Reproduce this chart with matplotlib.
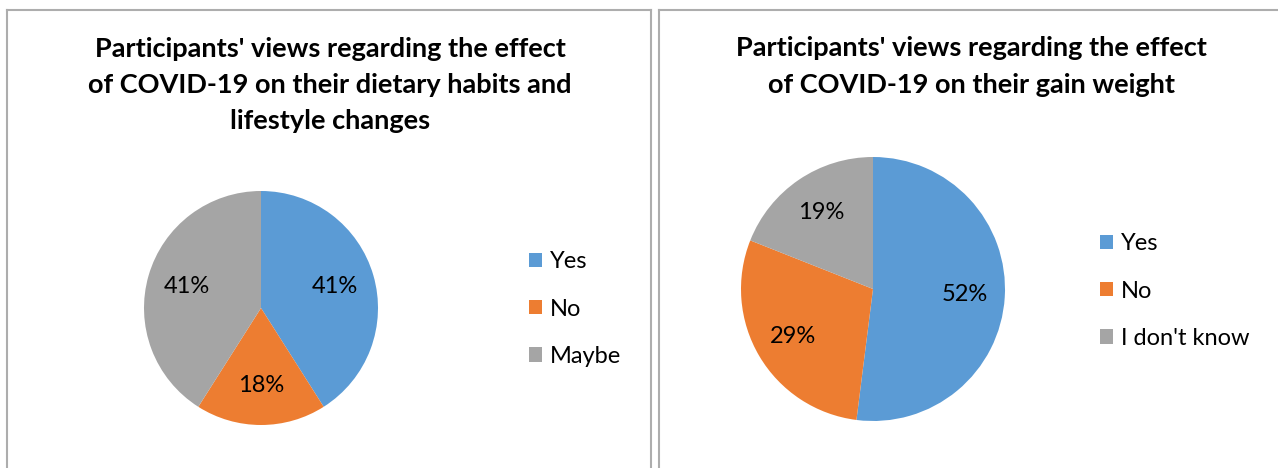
import matplotlib
matplotlib.use("Agg")
import matplotlib.pyplot as plt
from matplotlib.lines import Line2D

plt.rcParams['font.family'] = ['Lato', 'DejaVu Sans']

# Data
left_title = "Participants' views regarding the effect\nof COVID-19 on their dietary habits and\nlifestyle changes"
left_labels = ["Yes", "No", "Maybe"]
left_values = [41, 18, 41]

right_title = "Participants' views regarding the effect\nof COVID-19 on their gain weight"
right_labels = ["Yes", "No", "I don't know"]
right_values = [52, 29, 19]

colors = ["#5B9BD5", "#ED7D31", "#A5A5A5"]

W, H = 1278, 468
fig = plt.figure(figsize=(W / 100, H / 100), dpi=100)

LEG_FS = 17
PCT_FS = 17
TITLE_FS = 19.5


def px_axes(cx, cy, r):
    return fig.add_axes([(cx - r) / W, (H - cy - r) / H, 2 * r / W, 2 * r / H])


def draw_pie(ax, values, pctdist):
    wedges, texts, autotexts = ax.pie(values, colors=colors, startangle=90, counterclock=False,
                                      autopct=lambda p: f"{p:.0f}%", pctdistance=pctdist,
                                      textprops=dict(fontsize=PCT_FS, color="#000000"))
    ax.set_xlim(-1, 1)
    ax.set_ylim(-1, 1)
    ax.set_aspect("equal")
    ax.axis("off")
    return wedges


def add_legend(wedges, labels, x, y):
    fig.legend(wedges, labels, loc="center left", bbox_to_anchor=(x / W, 1 - y / H),
               frameon=False, fontsize=LEG_FS, handlelength=0.55, handleheight=0.55,
               handletextpad=0.34, labelspacing=1.12, borderpad=0, borderaxespad=0)


# Left panel
axL = px_axes(261, 308, 117)
wL = draw_pie(axL, left_values, 0.66)
add_legend(wL, left_labels, 529, 309)
fig.text(330 / W, 1 - 85 / H, left_title, ha="center", va="center", fontsize=TITLE_FS,
         fontweight="bold", linespacing=1.62)

# Right panel
axR = px_axes(873, 289, 132)
wR = draw_pie(axR, right_values, 0.7)
add_legend(wR, right_labels, 1100, 291)
fig.text(971 / W, 1 - 66.5 / H, right_title, ha="center", va="center", fontsize=TITLE_FS,
         fontweight="bold", linespacing=1.62)

# Panel borders
bc = "#ADADAD"
lw = 1.5
for xs, ys in [
    ([7 / W, 7 / W], [0, 1 - 9.5 / H]),
    ([7 / W, 651 / W], [1 - 9.5 / H, 1 - 9.5 / H]),
    ([651 / W, 651 / W], [0, 1 - 9.5 / H]),
    ([659 / W, 659 / W], [0, 1 - 9.5 / H]),
    ([659 / W, 1], [1 - 9.5 / H, 1 - 9.5 / H]),
]:
    fig.add_artist(Line2D(xs, ys, color=bc, lw=lw, transform=fig.transFigure))

fig.savefig("out.png", dpi=100)
